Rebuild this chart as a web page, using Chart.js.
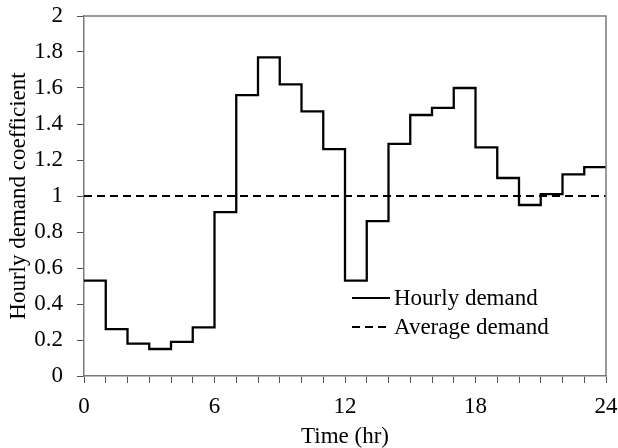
<!DOCTYPE html>
<html>
<head>
<meta charset="utf-8">
<script src="https://cdn.jsdelivr.net/npm/chart.js@4/dist/chart.umd.min.js"></script>
<style>
    body { margin: 0; background: #fff; }
    #wrap { width: 618px; height: 448px; }
</style>
</head>
<body>
<div id="wrap"><canvas id="demandChart" width="618" height="448"></canvas></div>
<script>
// Datos
const hours = [0, 1, 2, 3, 4, 5, 6, 7, 8, 9, 10, 11, 12, 13, 14, 15, 16, 17, 18, 19, 20, 21, 22, 23, 24];
const hourlyDemand = [0.53, 0.26, 0.18, 0.15, 0.19, 0.27, 0.91, 1.56, 1.77, 1.62, 1.47, 1.26,
                      0.53, 0.86, 1.29, 1.45, 1.49, 1.60, 1.27, 1.10, 0.95, 1.01, 1.12, 1.16];
const averageDemand = 1;
const xTickLabels = [0, 6, 12, 18, 24];
const yTickLabels = [0, 0.2, 0.4, 0.6, 0.8, 1, 1.2, 1.4, 1.6, 1.8, 2];

const fontFamily = '"Liberation Serif", "Times New Roman", serif';
const axisColor = '#7a7a7a';
const tickColor = '#555';

// cada escalon empieza en su hora; el ultimo termina en 24
const hourlyPoints = hours.map(function(h, i) {
    return { x: h, y: i < hourlyDemand.length ? hourlyDemand[i] : hourlyDemand[hourlyDemand.length - 1] };
});
const averagePoints = [
    { x: hours[0], y: averageDemand },
    { x: hours[hours.length - 1], y: averageDemand }
];

// marco del area de trazado
const framePlugin = {
    id: 'frame',
    afterDatasetsDraw: function(chart) {
        const a = chart.chartArea;
        const ctx = chart.ctx;
        ctx.save();
        ctx.strokeStyle = axisColor;
        ctx.lineWidth = 1.5;
        ctx.beginPath();
        ctx.moveTo(a.left, a.top);
        ctx.lineTo(a.right, a.top);
        ctx.lineTo(a.right, a.bottom);
        ctx.stroke();
        ctx.restore();
    }
};

// leyenda dentro del grafico
const insideLegend = {
    id: 'insideLegend',
    afterDraw: function(chart) {
        const a = chart.chartArea;
        const ctx = chart.ctx;
        const x0 = a.left + 268;
        const y0 = a.top + 282;
        ctx.save();
        ctx.font = '23px ' + fontFamily;
        ctx.fillStyle = '#000';
        ctx.textBaseline = 'middle';
        chart.data.datasets.forEach(function(ds, i) {
            const y = y0 + i * 29;
            ctx.strokeStyle = '#000';
            ctx.lineWidth = 2;
            ctx.setLineDash(ds.borderDash || []);
            ctx.beginPath();
            ctx.moveTo(x0, y);
            ctx.lineTo(x0 + 38, y);
            ctx.stroke();
            ctx.setLineDash([]);
            ctx.fillText(ds.label, x0 + 42, y + 1);
        });
        ctx.restore();
    }
};

function initChart() {
    const ctx = document.getElementById('demandChart').getContext('2d');

    new Chart(ctx, {
        type: 'line',
        data: {
            datasets: [
                {
                    label: 'Hourly demand',
                    data: hourlyPoints,
                    stepped: 'before',
                    borderColor: '#000',
                    borderWidth: 2.3,
                    pointRadius: 0,
                    fill: false
                },
                {
                    label: 'Average demand',
                    data: averagePoints,
                    borderColor: '#000',
                    borderWidth: 2,
                    borderDash: [8, 5],
                    pointRadius: 0,
                    fill: false
                }
            ]
        },
        options: {
            responsive: false,
            animation: false,
            layout: { padding: { top: 16, right: 12, left: 7, bottom: 0 } },
            plugins: {
                legend: { display: false },
                tooltip: { enabled: false }
            },
            scales: {
                x: {
                    type: 'linear',
                    min: 0,
                    max: 24,
                    border: { color: axisColor, width: 1.5 },
                    grid: { drawOnChartArea: false, color: tickColor, tickLength: 7, lineWidth: 1 },
                    afterBuildTicks: function(axis) {
                        axis.ticks = hours.map(function(h) { return { value: h }; });
                    },
                    afterFit: function(axis) {
                        axis.height = 72;
                        axis.paddingLeft = 0;
                        axis.paddingRight = 0;
                    },
                    ticks: {
                        autoSkip: false,
                        maxRotation: 0,
                        padding: 10,
                        color: '#000',
                        font: { family: fontFamily, size: 23 },
                        callback: function(value) {
                            return xTickLabels.indexOf(value) >= 0 ? String(value) : '';
                        }
                    },
                    title: {
                        display: true,
                        text: 'Time (hr)',
                        color: '#000',
                        font: { family: fontFamily, size: 23, lineHeight: 1 },
                        padding: { top: 0, bottom: 0 }
                    }
                },
                y: {
                    min: 0,
                    max: 2,
                    border: { color: axisColor, width: 1.5 },
                    grid: { drawOnChartArea: false, color: tickColor, tickLength: 7, lineWidth: 1 },
                    afterBuildTicks: function(axis) {
                        axis.ticks = yTickLabels.map(function(v) { return { value: v }; });
                    },
                    afterFit: function(axis) {
                        axis.width = 77;
                        axis.paddingTop = 0;
                        axis.paddingBottom = 0;
                    },
                    ticks: {
                        padding: 14,
                        color: '#000',
                        font: { family: fontFamily, size: 23 },
                        callback: function(value) { return String(value); }
                    },
                    title: {
                        display: true,
                        text: 'Hourly demand coefficient',
                        color: '#000',
                        font: { family: fontFamily, size: 23, lineHeight: 1 },
                        padding: { top: 0, bottom: 0 }
                    }
                }
            }
        },
        plugins: [framePlugin, insideLegend]
    });
}

document.addEventListener('DOMContentLoaded', function() {
    initChart();
});
</script>
</body>
</html>
